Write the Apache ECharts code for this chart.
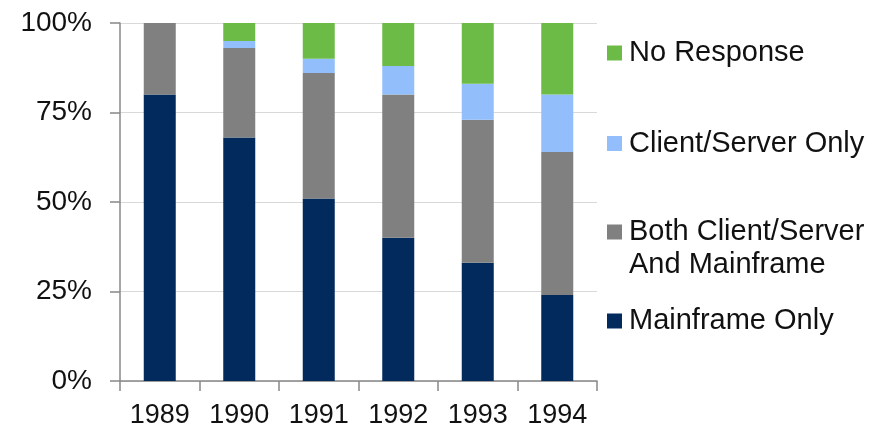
<!DOCTYPE html>
<html>
<head>
<meta charset="utf-8">
<script src="https://cdn.jsdelivr.net/npm/echarts@6/dist/echarts.min.js"></script>
<style>
html,body{margin:0;padding:0;background:#fff;}
#c{width:883px;height:429px;}
</style>
</head>
<body>
<div id="c"></div>
<script>
const categories = ['1989', '1990', '1991', '1992', '1993', '1994'];
const mainframeOnly = [80, 68, 51, 40, 33, 24];
const bothClientServerMainframe = [20, 25, 35, 40, 40, 40];
const clientServerOnly = [0, 2, 4, 8, 10, 16];
const noResponse = [0, 5, 10, 12, 17, 20];
const yTicks = [0, 25, 50, 75, 100];

const seriesNames = ['Mainframe Only', 'Both Client/Server\nAnd Mainframe', 'Client/Server Only', 'No Response'];
const colors = ['#022a5c', '#808080', '#92bffc', '#6cbb46'];
const FONT = '"Liberation Sans", Arial, sans-serif';
const L = 33;

function legendAt(name, color, top, fmt) {
  const lg = {
    orient: 'vertical',
    left: 607,
    top: top,
    padding: 0,
    itemWidth: 15,
    itemHeight: 15,
    icon: 'rect',
    selectedMode: false,
    data: [{ name: name, icon: 'rect', itemStyle: { color: color } }],
    textStyle: { fontFamily: FONT, fontSize: 29, color: '#111', lineHeight: L, padding: [0, 0, 0, 2] }
  };
  if (fmt) lg.formatter = fmt;
  return lg;
}

const chart = echarts.init(document.getElementById('c'), null, { renderer: 'canvas' });
chart.setOption({
  animation: false,
  backgroundColor: '#ffffff',
  grid: { left: 120, top: 23, width: 477, height: 360, containLabel: false },
  legend: [
    legendAt(seriesNames[3], colors[3], 53 - L / 2),
    legendAt(seriesNames[2], colors[2], 143.5 - L / 2),
    legendAt(seriesNames[1], colors[1], 232 - 1.5 * L, function (n) { return '\n' + n; }),
    legendAt(seriesNames[0], colors[0], 321 - L / 2)
  ],
  xAxis: {
    type: 'category',
    data: categories,
    axisLine: { lineStyle: { color: '#888', width: 1.5 } },
    axisTick: { show: true, length: 10, interval: 0, inside: false, alignWithLabel: false, lineStyle: { color: '#888', width: 1.5 } },
    axisLabel: { fontFamily: FONT, fontSize: 27, color: '#111', margin: 21, interval: 0, hideOverlap: false },
    splitLine: { show: false }
  },
  yAxis: {
    type: 'value',
    min: 0,
    max: 100,
    interval: 25,
    axisLine: { show: true, lineStyle: { color: '#888', width: 1.5 } },
    axisTick: { show: true, length: 10, lineStyle: { color: '#888', width: 1.5 } },
    axisLabel: {
      fontFamily: FONT, fontSize: 28, color: '#111', margin: 28,
      formatter: function (v) { return yTicks.indexOf(v) >= 0 ? v + '%' : ''; }
    },
    splitLine: { show: true, lineStyle: { color: '#d9d9d9', width: 1 } }
  },
  series: [
    { name: seriesNames[0], type: 'bar', stack: 't', barWidth: 32, data: mainframeOnly, itemStyle: { color: colors[0] } },
    { name: seriesNames[1], type: 'bar', stack: 't', barWidth: 32, data: bothClientServerMainframe, itemStyle: { color: colors[1] } },
    { name: seriesNames[2], type: 'bar', stack: 't', barWidth: 32, data: clientServerOnly, itemStyle: { color: colors[2] } },
    { name: seriesNames[3], type: 'bar', stack: 't', barWidth: 32, data: noResponse, itemStyle: { color: colors[3] } }
  ]
});
</script>
</body>
</html>
